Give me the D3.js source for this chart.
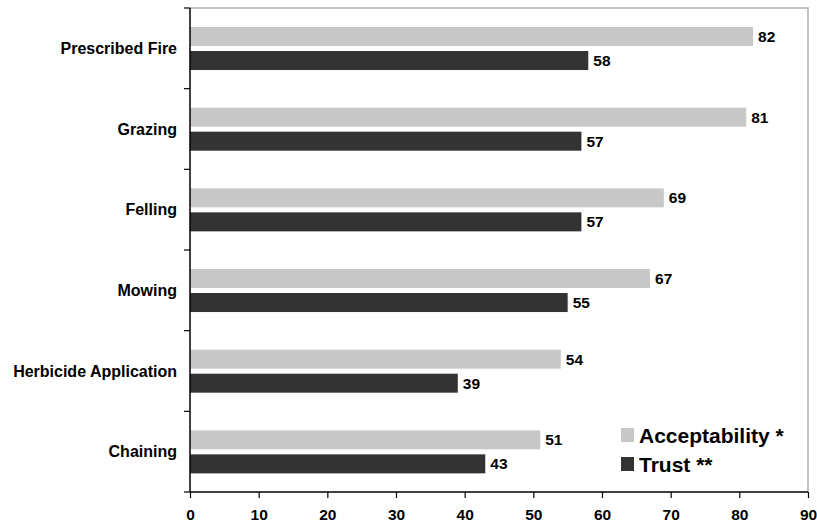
<!DOCTYPE html>
<html><head><meta charset="utf-8">
<script src="https://cdn.jsdelivr.net/npm/d3@7"></script>
<style>body{margin:0;background:#fff}svg{display:block;font-family:"Liberation Sans",Arial,sans-serif;font-weight:bold}</style>
</head><body><svg id="c" width="817" height="524"></svg>
<script>
const categories = ["Prescribed Fire","Grazing","Felling","Mowing","Herbicide Application","Chaining"];
const acceptability = [82,81,69,67,54,51];
const trust = [58,57,57,55,39,43];
const seriesNames = ["Acceptability *","Trust **"];
const xTicks = [0,10,20,30,40,50,60,70,80,90];
const colors = ["#c8c8c8","#333333"];

const svg = d3.select("#c");
const m = {l:190, r:9, t:8, b:32};
const W = 817, H = 524;
const x = d3.scaleLinear().domain([0,90]).range([m.l, W - m.r]);
const y = d3.scaleBand().domain(categories).range([m.t, H - m.b]);
const inner = d3.scaleBand().domain([0,1]).range([y.bandwidth()*0.2355, y.bandwidth()*0.769]).paddingInner(0.208);

// plot border top/right
svg.append("path").attr("d", `M${m.l},${m.t}H${W-m.r}V${H-m.b}`).attr("fill","none").attr("stroke","#b0b0b0").attr("stroke-width",1.5);

const series = [acceptability, trust];
series.forEach((vals, si) => {
  const g = svg.append("g");
  g.selectAll("rect").data(categories).join("rect")
    .attr("x", x(0)).attr("y", (c) => y(c) + inner(si))
    .attr("width", (c,i) => x(vals[i]) - x(0)).attr("height", inner.bandwidth())
    .attr("fill", colors[si]);
  g.selectAll("text").data(categories).join("text")
    .attr("x", (c,i) => x(vals[i]) + 5).attr("y", (c) => y(c) + inner(si) + inner.bandwidth()/2)
    .attr("dy","0.36em").attr("font-size",15.5).attr("fill","#000")
    .text((c,i) => vals[i]);
});

// x axis
const xa = svg.append("g").attr("transform",`translate(0,${H-m.b})`)
  .call(d3.axisBottom(x).tickValues(xTicks).tickSize(6).tickPadding(11).tickFormat(d3.format("d")));
xa.select(".domain").attr("stroke","#000").attr("stroke-width",1.5).attr("d",`M${x(0)},0H${x(90)}`);
xa.selectAll(".tick line").attr("stroke","#000").attr("stroke-width",1.2);
xa.selectAll(".tick text").attr("font-size",15.5).attr("font-weight","bold").attr("font-family","Liberation Sans, Arial, sans-serif").attr("fill","#000");

// y axis: ticks at band boundaries
const ya = svg.append("g").attr("transform",`translate(${m.l},0)`);
ya.append("line").attr("x1",0).attr("x2",0).attr("y1",m.t).attr("y2",H-m.b).attr("stroke","#000").attr("stroke-width",1.5);
const bounds = categories.map(c => y(c)).concat([H - m.b]);
ya.selectAll("line.tk").data(bounds).join("line").attr("class","tk")
  .attr("x1",-6).attr("x2",0).attr("y1",d=>d).attr("y2",d=>d).attr("stroke","#000").attr("stroke-width",1.2);
ya.selectAll("text").data(categories).join("text")
  .attr("x",-13).attr("y",c => y(c) + y.bandwidth()*0.5).attr("dy","0.36em")
  .attr("text-anchor","end").attr("font-size",16).attr("fill","#000").text(c=>c);

// legend
const lg = svg.append("g");
seriesNames.forEach((n,i) => {
  lg.append("rect").attr("x",621).attr("y",428 + i*29).attr("width",13).attr("height",14).attr("fill",colors[i]);
  lg.append("text").attr("x",639).attr("y",435 + i*29).attr("dy","0.36em").attr("font-size",21).attr("fill","#000").text(n);
});
</script></body></html>
